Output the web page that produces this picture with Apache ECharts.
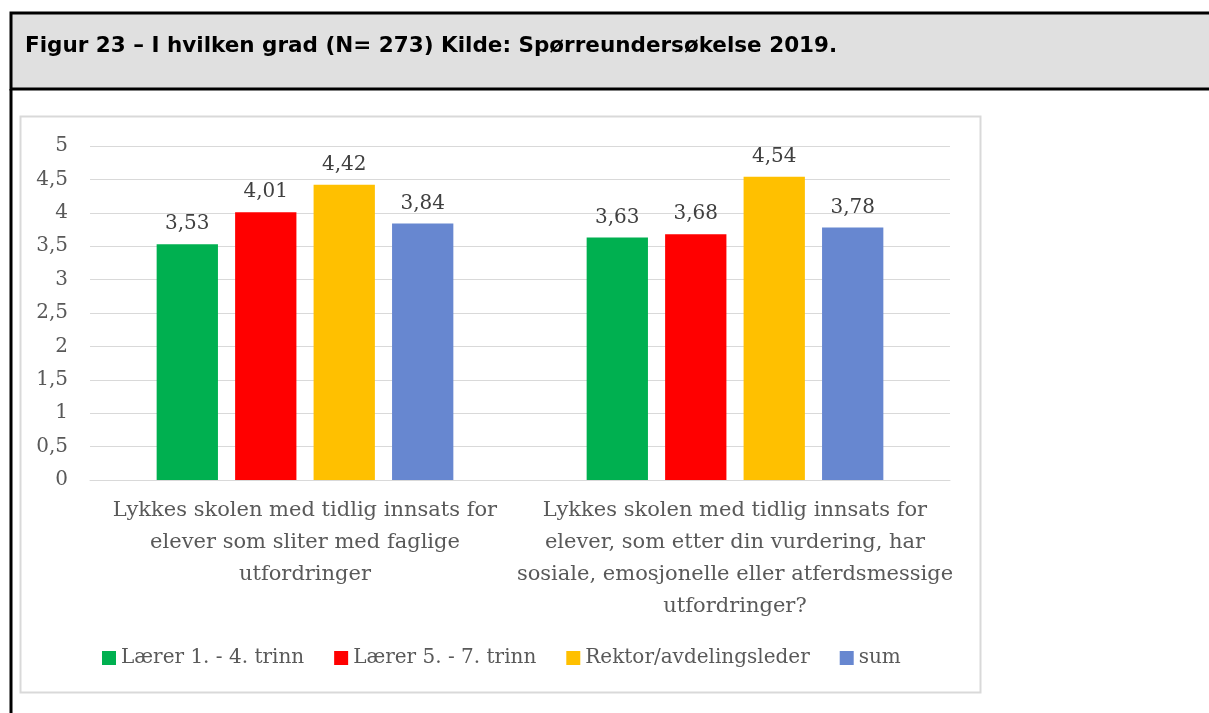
<!DOCTYPE html>
<html>
<head>
  <meta charset="utf-8" />
  <title>Figur 23</title>
  <script src="https://cdn.jsdelivr.net/npm/echarts@6/dist/echarts.min.js"></script>
  <style>
    body { margin: 0; background: #fff; }
    #main { width: 1209px; height: 713px; }
  </style>
</head>
<body>
<div id="main"></div>
<script type="text/javascript">
  // data
  var categories = [
    'Lykkes skolen med tidlig innsats for\nelever som sliter med faglige\nutfordringer',
    'Lykkes skolen med tidlig innsats for\nelever, som etter din vurdering, har\nsosiale, emosjonelle eller atferdsmessige\nutfordringer?'
  ];
  var seriesNames = ['Lærer 1. - 4. trinn', 'Lærer 5. - 7. trinn', 'Rektor/avdelingsleder', 'sum'];
  var laerer14 = [3.53, 3.63];
  var laerer57 = [4.01, 3.68];
  var rektor = [4.42, 4.54];
  var sum = [3.84, 3.78];
  var colors = ['#00b050', '#ff0000', '#ffc000', '#6787d0'];

  var font = 'DejaVu Serif';
  var comma = function (v) { return String(v).replace('.', ','); };

  var myChart = echarts.init(document.getElementById('main'));

  var values = [laerer14, laerer57, rektor, sum];
  var series = seriesNames.map(function (name, i) {
    return {
      name: name,
      type: 'bar',
      data: values[i],
      barGap: '28%',
      barCategoryGap: '31%',
      itemStyle: { color: colors[i] },
      label: {
        show: true,
        position: 'top',
        distance: 10,
        color: '#404040',
        fontFamily: font,
        fontSize: 20,
        formatter: function (p) { return comma(p.value.toFixed(2)); }
      }
    };
  });

  var option = {
    backgroundColor: '#fff',
    animation: false,
    graphic: [
      {
        type: 'rect',
        shape: { x: 11, y: 13, width: 1300, height: 76 },
        style: { fill: '#e0e0e0', stroke: '#000', lineWidth: 3 }
      },
      {
        type: 'line',
        shape: { x1: 11, y1: 89, x2: 11, y2: 720 },
        style: { stroke: '#000', lineWidth: 3 }
      },
      {
        type: 'rect',
        shape: { x: 20.5, y: 116.5, width: 960, height: 576 },
        style: { fill: 'none', stroke: '#d9d9d9', lineWidth: 2 }
      },
      {
        type: 'text',
        left: 25,
        top: 35,
        style: {
          text: 'Figur 23 – I hvilken grad (N= 273) Kilde: Spørreundersøkelse 2019.',
          font: 'bold 21.5px "DejaVu Sans"',
          fill: '#000'
        }
      }
    ],
    grid: { left: 90, right: 259, top: 146, bottom: 233 },
    legend: {
      left: 97,
      top: 643,
      icon: 'rect',
      itemWidth: 14,
      itemHeight: 14,
      itemGap: 30,
      textStyle: { color: '#595959', fontFamily: font, fontSize: 20 },
      data: seriesNames
    },
    xAxis: {
      type: 'category',
      data: categories,
      axisLine: { lineStyle: { color: '#d9d9d9', width: 1 } },
      axisTick: { show: false },
      axisLabel: {
        color: '#595959',
        fontFamily: font,
        fontSize: 21,
        lineHeight: 32,
        margin: 15,
        interval: 0
      }
    },
    yAxis: {
      type: 'value',
      min: 0,
      max: 5,
      interval: 0.5,
      axisLine: { show: false },
      axisTick: { show: false },
      splitLine: { lineStyle: { color: '#d9d9d9', width: 1 } },
      axisLabel: {
        color: '#595959',
        fontFamily: font,
        fontSize: 20,
        margin: 22,
        formatter: function (v) { return comma(v); }
      }
    },
    series: series
  };

  myChart.setOption(option);
</script>
</body>
</html>
